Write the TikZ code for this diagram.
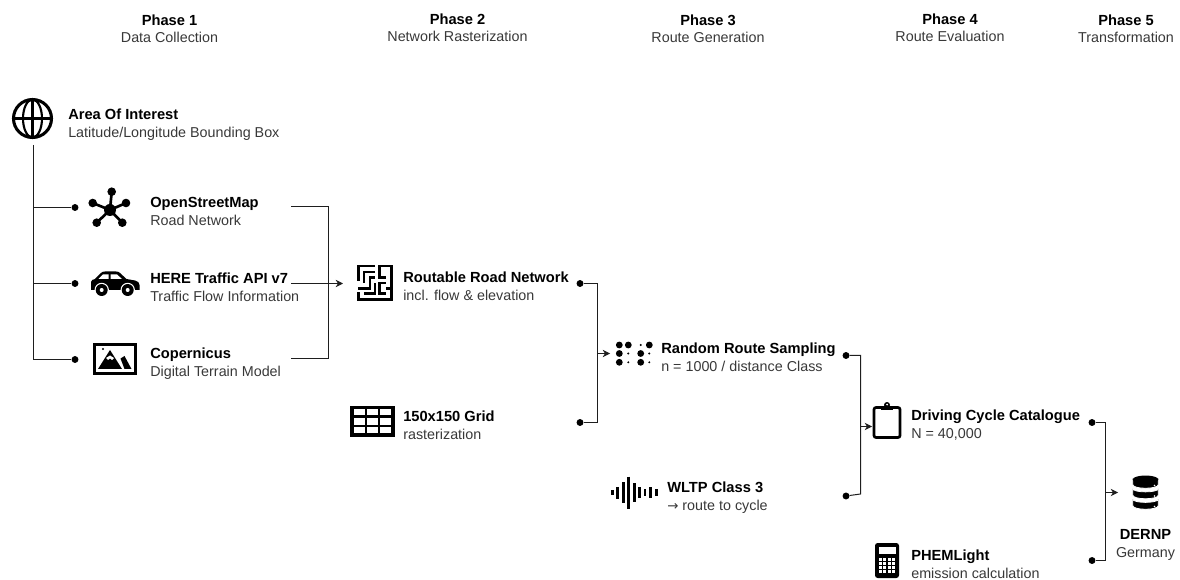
\documentclass[tikz,border=0pt]{standalone}
\usepackage{xcolor}
\usepackage{fontspec}
\setmainfont{Liberation Sans}
\newfontfamily\arrowfont{DejaVu Sans}
\usetikzlibrary{arrows.meta, positioning}
\definecolor{wirecolor}{RGB}{30,30,30}
\definecolor{subcolor}{RGB}{56,56,56}
\newcommand{\entrytext}[2]{\textbf{#1}\\{\color{subcolor}\fontsize{10.75}{13.5}\selectfont #2}}
\begin{document}
\begin{tikzpicture}[
  x=0.75pt, y=-0.75pt,
  wire/.style={draw=wirecolor, line width=0.75pt},
  arrow/.style={-{Stealth[length=5.5pt, width=5.5pt]}, wirecolor, line width=0.75pt},
  dot/.style={circle, fill=black, inner sep=0pt, minimum size=5.2pt},
  entry/.style={anchor=west, align=left, inner sep=0pt, font=\fontsize{11}{13.5}\selectfont},
  phase/.style={align=center, inner sep=0pt, font=\fontsize{11}{13}\selectfont},
  icon/.style={draw=black, line width=2pt},
  bar/.style={black, line width=2.2pt}
]
\useasboundingbox (0,0) rectangle (1180,580);

\node[phase] (ph1) at (169.5,29)  {\textbf{Phase 1}\\{\color{subcolor}\fontsize{10.75}{13}\selectfont Data Collection}};
\node[phase] (ph2) at (457.5,28)  {\textbf{Phase 2}\\{\color{subcolor}\fontsize{10.75}{13}\selectfont Network Rasterization}};
\node[phase] (ph3) at (708,29)    {\textbf{Phase 3}\\{\color{subcolor}\fontsize{10.75}{13}\selectfont Route Generation}};
\node[phase] (ph4) at (950,28)    {\textbf{Phase 4}\\{\color{subcolor}\fontsize{10.75}{13}\selectfont Route Evaluation}};
\node[phase] (ph5) at (1126,29)   {\textbf{Phase 5}\\{\color{subcolor}\fontsize{10.75}{13}\selectfont Transformation}};

\node[entry] (aoi)   at (68,125)    {\entrytext{Area Of Interest}{Latitude/Longitude Bounding Box}};
\node[entry] (osm)   at (150,211)   {\entrytext{OpenStreetMap}{Road Network}};
\node[entry] (here)  at (150,287)   {\entrytext{HERE Traffic API v7}{Traffic Flow Information}};
\node[entry] (cop)   at (150,364)   {\entrytext{Copernicus}{Digital Terrain Model}};
\node[entry] (rrn)   at (403,286)   {\entrytext{Routable Road Network}{incl. flow \& elevation}};
\node[entry] (grid)  at (403,425)   {\entrytext{150x150 Grid}{rasterization}};
\node[entry] (route) at (661,357)   {\entrytext{Random Route Sampling}{n = 1000 / distance Class}};
\node[entry] (wltp)  at (667,497.5) {\entrytext{WLTP Class 3}{{\arrowfont\fontsize{10}{13.5}\selectfont →} route to cycle}};
\node[entry] (cat)   at (911,425.5) {\entrytext{Driving Cycle Catalogue}{N = 40,000}};
\node[entry] (phem)  at (911,564.5) {\entrytext{PHEMLight}{emission calculation}};
\node[phase] (dern)  at (1145.5,545) {\textbf{DERNP}\\{\color{subcolor}\fontsize{10.75}{13}\selectfont Germany}};

\node[dot] (osmdot)  at (75,207.5) {};
\node[dot] (heredot) at (75,283.5) {};
\node[dot] (copdot)  at (75,359.5) {};
\node[dot] (rrndot)  at (580,283.5) {};
\node[dot] (griddot) at (580,422.5) {};
\node[dot] (routedot) at (846,355.5) {};
\node[dot] (wltpdot) at (846,496)  {};
\node[dot] (catdot)  at (1092,422.5) {};
\node[dot] (phemdot) at (1092,560.5) {};

\coordinate (aoiout)  at (33.5,145);
\coordinate (osmout)  at (291,206.5);
\coordinate (hereout) at (291,283.5);
\coordinate (copout)  at (291,358.5);
\coordinate (netjoin) at (328.5,283.5);
\coordinate (netin)   at (343,283.5);
\coordinate (rrnjoin) at (597.5,353.5);
\coordinate (rrnin)   at (610,353.5);
\coordinate (catjoin) at (860.5,426.5);
\coordinate (catin)   at (872,426.5);
\coordinate (catbend) at (860.5,494);
\coordinate (dbjoin)  at (1105.5,492.5);
\coordinate (dbin)    at (1118,492.5);

\draw[wire] (aoiout) |- (copdot);
\draw[wire] (aoiout |- osmdot) -- (osmdot);
\draw[wire] (aoiout |- heredot) -- (heredot);
\draw[wire] (osmout) -| (netjoin) |- (copout);
\draw[arrow] (hereout) -- (netin);
\draw[wire] (rrndot) -| (rrnjoin) |- (griddot);
\draw[arrow] (rrnjoin) -- (rrnin);
\draw[wire] (routedot) -| (catjoin) -- (catbend) -- (wltpdot);
\draw[arrow] (catjoin) -- (catin);
\draw[wire] (catdot) -| (dbjoin) |- (phemdot);
\draw[arrow] (dbjoin) -- (dbin);

\draw[icon, line width=2.3pt] (32.5,118.5) circle[radius=19];
\draw[icon, line width=1.6pt] (32.5,118.5) ellipse[x radius=9.5, y radius=19];
\draw[icon, line width=1.6pt] (32.5,99) -- (32.5,138);
\draw[icon, line width=1.6pt] (13,118.5) -- (52,118.5);

\draw[icon] (92.7,203) -- (110,210) -- (111.7,191.7);
\draw[icon] (126,203) -- (110,210) -- (122.3,222.7);
\draw[icon] (96.7,222.7) -- (110,210);
\fill (110,210) circle[radius=6];
\foreach \x/\y in {92.7/203, 111.7/191.7, 126/203, 122.3/222.7, 96.7/222.7}
  \fill (\x,\y) circle[radius=4.3];

\fill[black] (91,290) -- (91,282) .. controls (91,280) and (93,279.5) .. (95,279)
  -- (101,273) .. controls (102,272) and (103,271.5) .. (105,271.5) -- (116,271.5)
  .. controls (118,271.5) and (119,272) .. (120,273) -- (126.5,279) -- (135,280.5)
  .. controls (138,281) and (139.5,283) .. (139.5,285) -- (139.5,290) -- cycle;
\fill[white] (98.5,279) -- (103,274.5) -- (108.5,274.5) -- (108.5,279) -- cycle;
\fill[white] (110.5,279) -- (110.5,274.5) -- (117,274.5) -- (122,279) -- cycle;
\foreach \x in {101.7,127.7} {
  \fill[white] (\x,290) circle[radius=7.2];
  \fill[black] (\x,290) circle[radius=6];
  \fill[white] (\x,290) circle[radius=2];
}

\draw[icon, line width=2.6pt] (94.5,344.5) rectangle (135.5,373.5);
\fill[black] (98,369) -- (110,350) -- (122,369) -- cycle;
\fill[white] (106,358) -- (110,355.5) -- (114,358) -- (112,360) -- (110,358.5) -- (108,360) -- cycle;
\fill[black] (120.5,358.5) -- (124.5,356) -- (131.5,369) -- (124.5,369) -- cycle;
\fill (103,349) circle[radius=1.2];

\draw[icon, line width=2.1pt, line cap=butt]
  (375,266) -- (358.3,266) -- (358.3,281)
  (375,272) -- (364,272) -- (364,283)
  (358.3,288.3) -- (370,288.3) -- (370,277.3) -- (375,277.3)
  (358.3,292.5) -- (358.3,299.3) -- (391.7,299.3) -- (391.7,266) -- (379.3,266) -- (379.3,277.3) -- (386,277.3)
  (364,293.3) -- (375,293.3) -- (375,282.7)
  (386,293.3) -- (379.3,293.3) -- (379.3,283) -- (386,283)
  (386,288.3) -- (391,288.3);

\draw[icon, line width=2.6pt] (352,407.5) rectangle (393,435);
\draw[icon, line width=1.7pt] (365.7,407) -- (365.7,435) (379.3,407) -- (379.3,435)
  (352,416.5) -- (393,416.5) (352,426) -- (393,426);

\foreach \x/\y in {619.3/345, 628.3/345, 649.3/345, 619.3/353.5, 640.7/353.5, 619.3/362.3, 640.7/362.3}
  \fill (\x,\y) circle[radius=3.4];
\foreach \x/\y in {640.7/345, 628.3/353.5, 649.3/353.5, 628.3/362.3, 649.3/362.3}
  \fill (\x,\y) circle[radius=1.1];

\foreach \x/\h in {612.3/2.7, 617.7/5.8, 623.3/10.3, 628.3/16, 634.3/9.3, 639.3/5.5, 645/3.3, 650.7/5.5, 656.7/3.3}
  \draw[bar] (\x,492.7-\h) -- (\x,492.7+\h);

\draw[icon, rounded corners=1.5pt] (874,407.5) rectangle (900,437.5);
\fill[black] (881,405.5) rectangle (893,410);
\fill[black] (887,405) circle[radius=3];
\fill[white] (887,404.5) circle[radius=1];

\foreach \y in {476.5,487,497.5} {
  \fill[black, draw=white, line width=0.6pt] (1132.7,\y+1.5) .. controls (1132.7,\y+6) and (1158.3,\y+6) .. (1158.3,\y+1.5)
    -- (1158.3,\y+8) .. controls (1158.3,\y+13) and (1132.7,\y+13) .. (1132.7,\y+8) -- cycle;
}
\fill[black] (1145.5,479.5) ellipse[x radius=12.8, y radius=4];
\foreach \y in {485.5,496,506.5}
  \fill[white] (1154.5,\y) circle[radius=0.9];

\fill[black, rounded corners=2pt] (875,543) rectangle (899,578);
\fill[white] (879,547) rectangle (895.5,554);
\foreach \x in {879,883.3,887.6,892}
  \foreach \y in {558,562,566,570}
    \fill[white] (\x,\y) rectangle ++(3,2.6);
\end{tikzpicture}
\end{document}
